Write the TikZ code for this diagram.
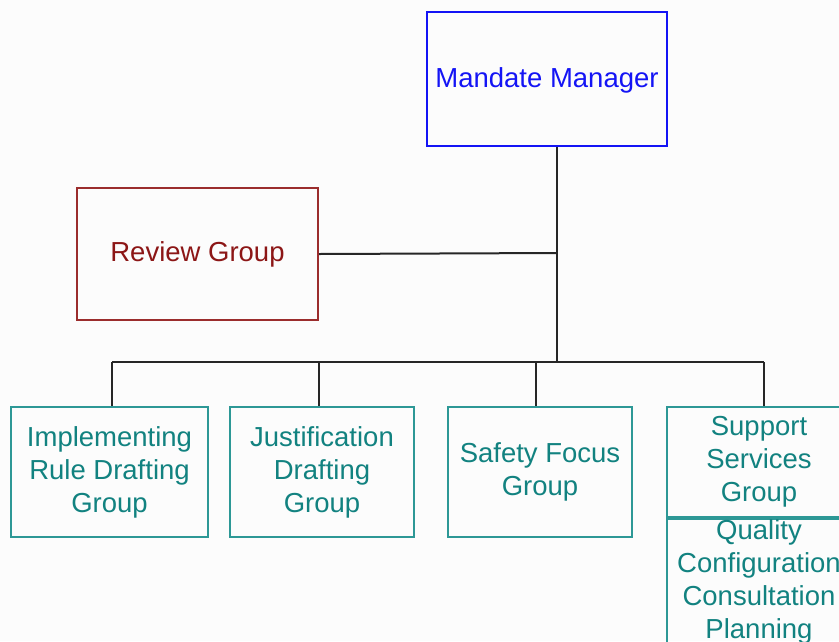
\documentclass[tikz,border=0pt]{standalone}
\usepackage{fontspec}
\setmainfont{Liberation Sans}
\definecolor{tealtext}{RGB}{18,130,128}
\definecolor{tealline}{RGB}{45,152,150}
\definecolor{mmblue}{RGB}{20,20,245}
\definecolor{rgtext}{RGB}{140,22,22}
\definecolor{rgline}{RGB}{155,45,45}
\tikzset{
  box/.style={draw, rectangle, line width=2pt, inner sep=0pt, align=center,
    font=\fontsize{27.5}{33}\selectfont},
  tealbox/.style={box, draw=tealline, text=tealtext},
  conn/.style={line width=2pt, draw=black!85}
}
\begin{document}
\begin{tikzpicture}[x=1pt,y=-1pt]
\useasboundingbox (0,0) rectangle (839,641);
\fill[white!99!black] (0,0) rectangle (839,641);
\clip (0,0) rectangle (839,641);
% top nodes
\node[box, draw=mmblue, text=mmblue, minimum width=240pt, minimum height=134pt] (mm) at (547,79) {};
\node[text=mmblue, font=\fontsize{27.5}{33}\selectfont] (mmt) at (547,80) {Mandate Manager};
\node[box, draw=rgline, text=rgtext, minimum width=241pt, minimum height=132pt] (rg) at (197.5,254) {Review Group};
% bottom nodes
\node[tealbox, minimum width=197pt, minimum height=130pt] (ir) at (109.5,472) {Implementing\\Rule Drafting\\Group};
\node[tealbox, minimum width=184pt, minimum height=130pt] (jd) at (322,472) {Justification\\Drafting\\Group};
\node[tealbox, minimum width=184pt, minimum height=130pt] (sf) at (540,472) {Safety Focus\\Group};
\node[tealbox, minimum width=184pt, minimum height=110pt] (ss) at (759,462) {Support\\Services\\Group};
\node[tealbox, minimum width=184pt, minimum height=180pt, anchor=north] (qc) at (ss.south) {};
\node[text=tealtext, font=\fontsize{27.5}{33}\selectfont, align=center, inner sep=0pt] (qct) at (759,582) {Quality\\Configuration\\Consultation\\Planning};
% connectors
\coordinate (j1) at (557,253);
\coordinate (bus) at (557,362);
\coordinate (d1) at (112,362);
\coordinate (d2) at (319,362);
\coordinate (d3) at (536,362);
\coordinate (d4) at (764,362);
\draw[conn] (bus |- mm.south) -- (bus);
\draw[conn] (rg.east) -- (j1);
\draw[conn] (d1) -- (d4);
\draw[conn] (d1) -- (d1 |- ir.north);
\draw[conn] (d2) -- (d2 |- jd.north);
\draw[conn] (d3) -- (d3 |- sf.north);
\draw[conn] (d4) -- (d4 |- ss.north);
\end{tikzpicture}
\end{document}
